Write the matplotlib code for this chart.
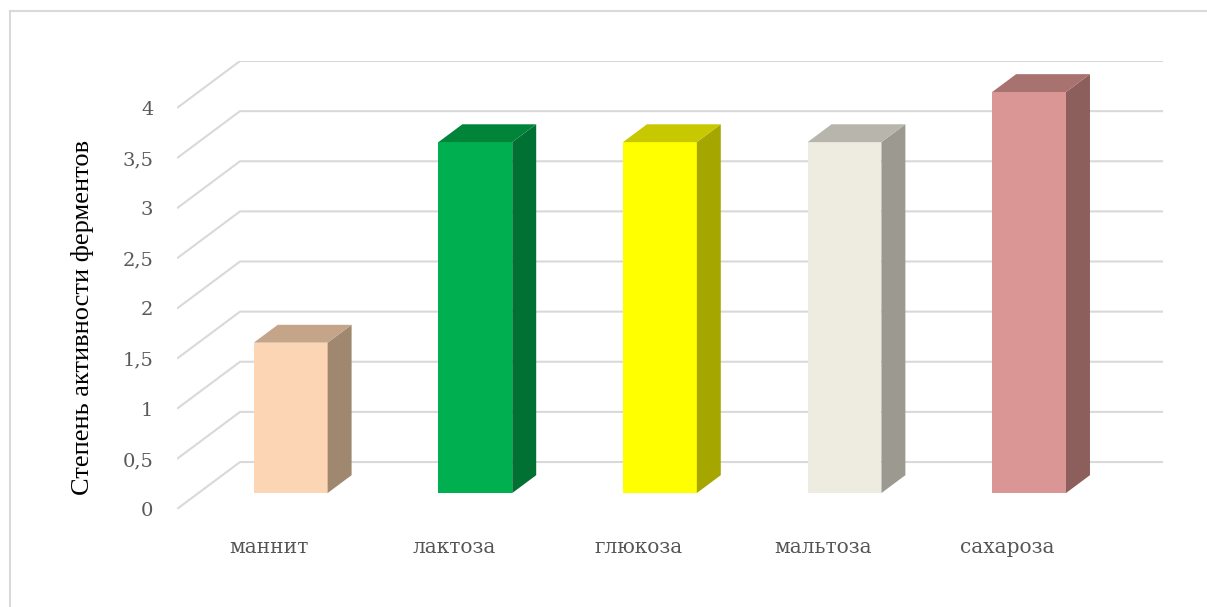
import matplotlib
matplotlib.use("Agg")
import matplotlib.pyplot as plt
from matplotlib.patches import Polygon
import numpy as np

# данные: сахара и степень активности ферментов
sugars = ["маннит", "лактоза", "глюкоза", "мальтоза", "сахароза"]
activity = [1.5, 3.5, 3.5, 3.5, 4.0]
y_ticks = [0, 0.5, 1, 1.5, 2, 2.5, 3, 3.5, 4]
y_tick_labels = ["0", "0,5", "1", "1,5", "2", "2,5", "3", "3,5", "4"]

# цвета граней: передняя, боковая, верхняя
front_colors = ["#FCD5B5", "#00B050", "#FFFF00", "#EEECE1", "#DA9694"]
side_colors = ["#A08870", "#007033", "#A6A600", "#9C9990", "#8C5E5C"]
top_colors = ["#C4A58A", "#00843A", "#C8C800", "#B8B5AD", "#A87270"]

# косоугольная проекция: смещение на единицу глубины (в единицах осей)
ddx = 0.3415
ddy = 0.4686
d0, d1 = 0.34, 0.72    # передняя и задняя грань столбика по глубине
w = 0.40               # ширина столбика

W, H = 1207, 607
fig = plt.figure(figsize=(W / 100, H / 100), dpi=100)
fig.patch.set_facecolor("white")

# рамка области диаграммы
fig.add_artist(plt.Line2D([10 / W, 10 / W], [0, 1 - 11 / H], color="#d9d9d9", lw=1.5))
fig.add_artist(plt.Line2D([10 / W, 1], [1 - 11 / H, 1 - 11 / H], color="#d9d9d9", lw=1.5))

ax = fig.add_axes([177 / W, 1 - 509 / H, (1163 - 177) / W, (509 - 61) / H])
n = len(sugars)
ax.set_xlim(-0.5, n - 0.5 + ddx)
ax.set_ylim(0, 4 + ddy)
for s in ax.spines.values():
    s.set_visible(False)

# линии сетки: левая стенка по диагонали, затем задняя стенка
for v in y_ticks:
    ax.plot([-0.5, -0.5 + ddx, n - 0.5 + ddx], [v, v + ddy, v + ddy],
            color="#d9d9d9", lw=1.5, zorder=1, solid_capstyle="butt")

# столбики
x = np.arange(n)
xf = x + d0 * ddx
yb = d0 * ddy
ax.bar(xf, activity, width=w, bottom=yb, color=front_colors, zorder=3,
       edgecolor="none")
sx = (d1 - d0) * ddx
sy = (d1 - d0) * ddy
for i, v in enumerate(activity):
    xl = xf[i] - w / 2
    xr = xf[i] + w / 2
    yt = yb + v
    side = Polygon([(xr, yb), (xr, yt), (xr + sx, yt + sy), (xr + sx, yb + sy)],
                   closed=True, facecolor=side_colors[i], edgecolor="none", zorder=3)
    top = Polygon([(xl, yt), (xr, yt), (xr + sx, yt + sy), (xl + sx, yt + sy)],
                  closed=True, facecolor=top_colors[i], edgecolor="none", zorder=3)
    ax.add_patch(side)
    ax.add_patch(top)

# подписи осей
ax.set_yticks(y_ticks)
ax.set_yticklabels(y_tick_labels, fontsize=14, color="#595959", family="DejaVu Serif")
ax.tick_params(axis="y", length=0, pad=17)
ax.set_xticks(x)
ax.set_xticklabels(sugars, fontsize=14.5, color="#555555", family="DejaVu Serif")
ax.tick_params(axis="x", length=0, pad=21)

fig.text(83 / W, 1 - 317 / H, "Степень активности ферментов", rotation=90,
         ha="center", va="center", fontsize=19, color="black",
         family="Liberation Serif")

fig.savefig("out.png", dpi=100, facecolor="white")
